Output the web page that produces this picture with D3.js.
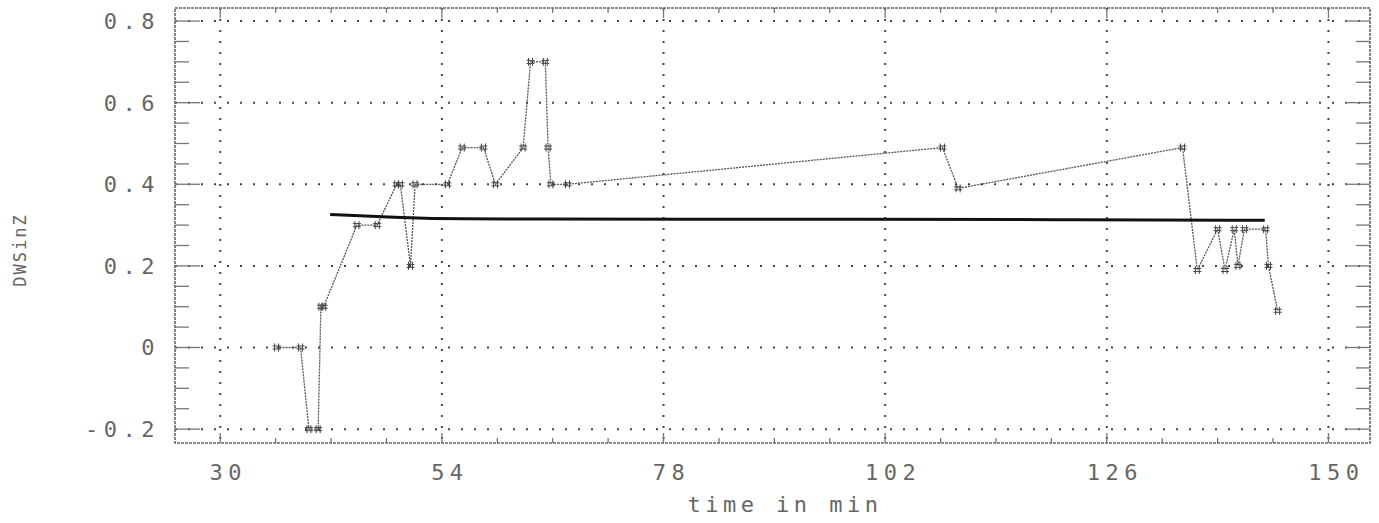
<!DOCTYPE html>
<html>
<head>
<meta charset="utf-8">
<script src="https://cdn.jsdelivr.net/npm/d3@7"></script>
<style>
body { margin: 0; background: #fff; }
text { font-family: "DejaVu Sans Mono", monospace; fill: #666; }
</style>
</head>
<body>
<svg id="chart" width="1379" height="523"></svg>
<script>
// measured series (time in min / value)
var timeMin = [36.1, 38.7, 39.6, 40.6, 40.9, 41.2, 44.8, 47.0, 49.1, 49.5, 50.6, 51.1, 54.6,
	56.2, 58.5, 59.8, 62.8, 63.6, 65.2, 65.5, 65.8, 67.6, 108.2, 109.9, 134.2,
	135.8, 138.0, 138.8, 139.8, 140.2, 140.9, 143.2, 143.5, 144.5];
var dwsValue = [0.00, 0.00, -0.20, -0.20, 0.10, 0.10, 0.30, 0.30, 0.40, 0.40, 0.20, 0.40, 0.40,
	0.49, 0.49, 0.40, 0.49, 0.70, 0.70, 0.49, 0.40, 0.40, 0.49, 0.39, 0.49,
	0.19, 0.29, 0.19, 0.29, 0.20, 0.29, 0.29, 0.20, 0.09];

// smoothed mean line
var fitTime = [41.9, 50, 56, 64, 80, 100, 120, 143.1];
var fitValue = [0.326, 0.318, 0.315, 0.315, 0.314, 0.315, 0.313, 0.312];

var xTicks = [30, 54, 78, 102, 126, 150];
var yTicks = [-0.2, 0, 0.2, 0.4, 0.6, 0.8];
var yTickLabels = ["-0.2", "0", "0.2", "0.4", "0.6", "0.8"];

var svg = d3.select("#chart");
// plot box (window.top is reserved, so prefixed names)
var pLeft = 175, pRight = 1370, pTop = 8, pBottom = 443;

var x = d3.scaleLinear().domain([25.1, 154.5]).range([pLeft, pRight]);
var y = d3.scaleLinear().domain([-0.234, 0.832]).range([pBottom, pTop]);

svg.append("rect").attr("width", 1379).attr("height", 523).attr("fill", "#fff");

// dotted grid
svg.append("g").selectAll("line").data(yTicks).enter().append("line")
	.attr("x1", pLeft).attr("x2", pRight)
	.attr("y1", function(d) { return y(d); }).attr("y2", function(d) { return y(d); })
	.attr("stroke", "#444").attr("stroke-width", 2).attr("stroke-dasharray", "2,11");
svg.append("g").selectAll("line").data(xTicks).enter().append("line")
	.attr("y1", pTop).attr("y2", pBottom)
	.attr("x1", function(d) { return x(d); }).attr("x2", function(d) { return x(d); })
	.attr("stroke", "#444").attr("stroke-width", 2).attr("stroke-dasharray", "2,9");

// ticks on the frame, minor every 0.05 / 6 min
var yMinor = d3.range(-0.2, 0.81, 0.05);
var xMinor = d3.range(30, 151, 6);
var ticks = svg.append("g").attr("stroke", "#777").attr("stroke-width", 1.3);
yMinor.forEach(function(v) {
	var major = Math.abs(Math.round(v * 5) - v * 5) < 1e-6;
	var len = major ? 25 : 14;
	ticks.append("line").attr("x1", pLeft).attr("x2", pLeft + len).attr("y1", y(v)).attr("y2", y(v));
	ticks.append("line").attr("x1", pRight - len).attr("x2", pRight).attr("y1", y(v)).attr("y2", y(v));
});
xMinor.forEach(function(t) {
	var len = (t - 30) % 24 == 0 ? 10 : 5;
	ticks.append("line").attr("x1", x(t)).attr("x2", x(t)).attr("y1", pBottom).attr("y2", pBottom - len);
	ticks.append("line").attr("x1", x(t)).attr("x2", x(t)).attr("y1", pTop).attr("y2", pTop + len);
});

// frame
svg.append("rect")
	.attr("x", pLeft).attr("y", pTop).attr("width", pRight - pLeft).attr("height", pBottom - pTop)
	.attr("fill", "none").attr("stroke", "#666").attr("stroke-width", 1.6)
	.attr("stroke-dasharray", "3,1");

// tick labels
svg.append("g").selectAll("text").data(yTicks).enter().append("text")
	.attr("x", 160).attr("y", function(d) { return y(d); })
	.attr("dy", "0.36em").attr("text-anchor", "end")
	.style("font-size", "22px").style("letter-spacing", "5.5px")
	.text(function(d, i) { return yTickLabels[i]; });
svg.append("g").selectAll("text").data(xTicks).enter().append("text")
	.attr("x", function(d) { return x(d) + 8; }).attr("y", 480)
	.attr("text-anchor", "middle")
	.style("font-size", "22px").style("letter-spacing", "5.5px")
	.text(function(d) { return d; });

svg.append("text").attr("x", 785).attr("y", 512).attr("text-anchor", "middle")
	.style("font-size", "22px").style("letter-spacing", "4.5px")
	.text("time in min");
svg.append("text").attr("transform", "translate(26,250) rotate(-90)")
	.attr("text-anchor", "middle")
	.style("font-size", "17px").style("letter-spacing", "2px")
	.text("DWSinZ");

// measured line
var pts = timeMin.map(function(t, i) { return [t, dwsValue[i]]; });
var line = d3.line().x(function(d) { return x(d[0]); }).y(function(d) { return y(d[1]); });
svg.append("path").datum(pts)
	.attr("d", line).attr("fill", "none")
	.attr("stroke", "#555").attr("stroke-width", 1.3).attr("stroke-dasharray", "2,1");

// hash markers at the vertices
var hash = "M-2,-4V4M2,-4V4M-4,-1.5H4M-4,1.5H4";
svg.append("g").selectAll("path").data(pts).enter().append("path")
	.attr("transform", function(d) { return "translate(" + x(d[0]) + "," + y(d[1]) + ")"; })
	.attr("d", hash).attr("fill", "none").attr("stroke", "#444").attr("stroke-width", 1);

// mean line
var fit = fitTime.map(function(t, i) { return [t, fitValue[i]]; });
svg.append("path").datum(fit)
	.attr("d", line.curve(d3.curveBasis)).attr("fill", "none")
	.attr("stroke", "#111").attr("stroke-width", 3);
</script>
</body>
</html>
